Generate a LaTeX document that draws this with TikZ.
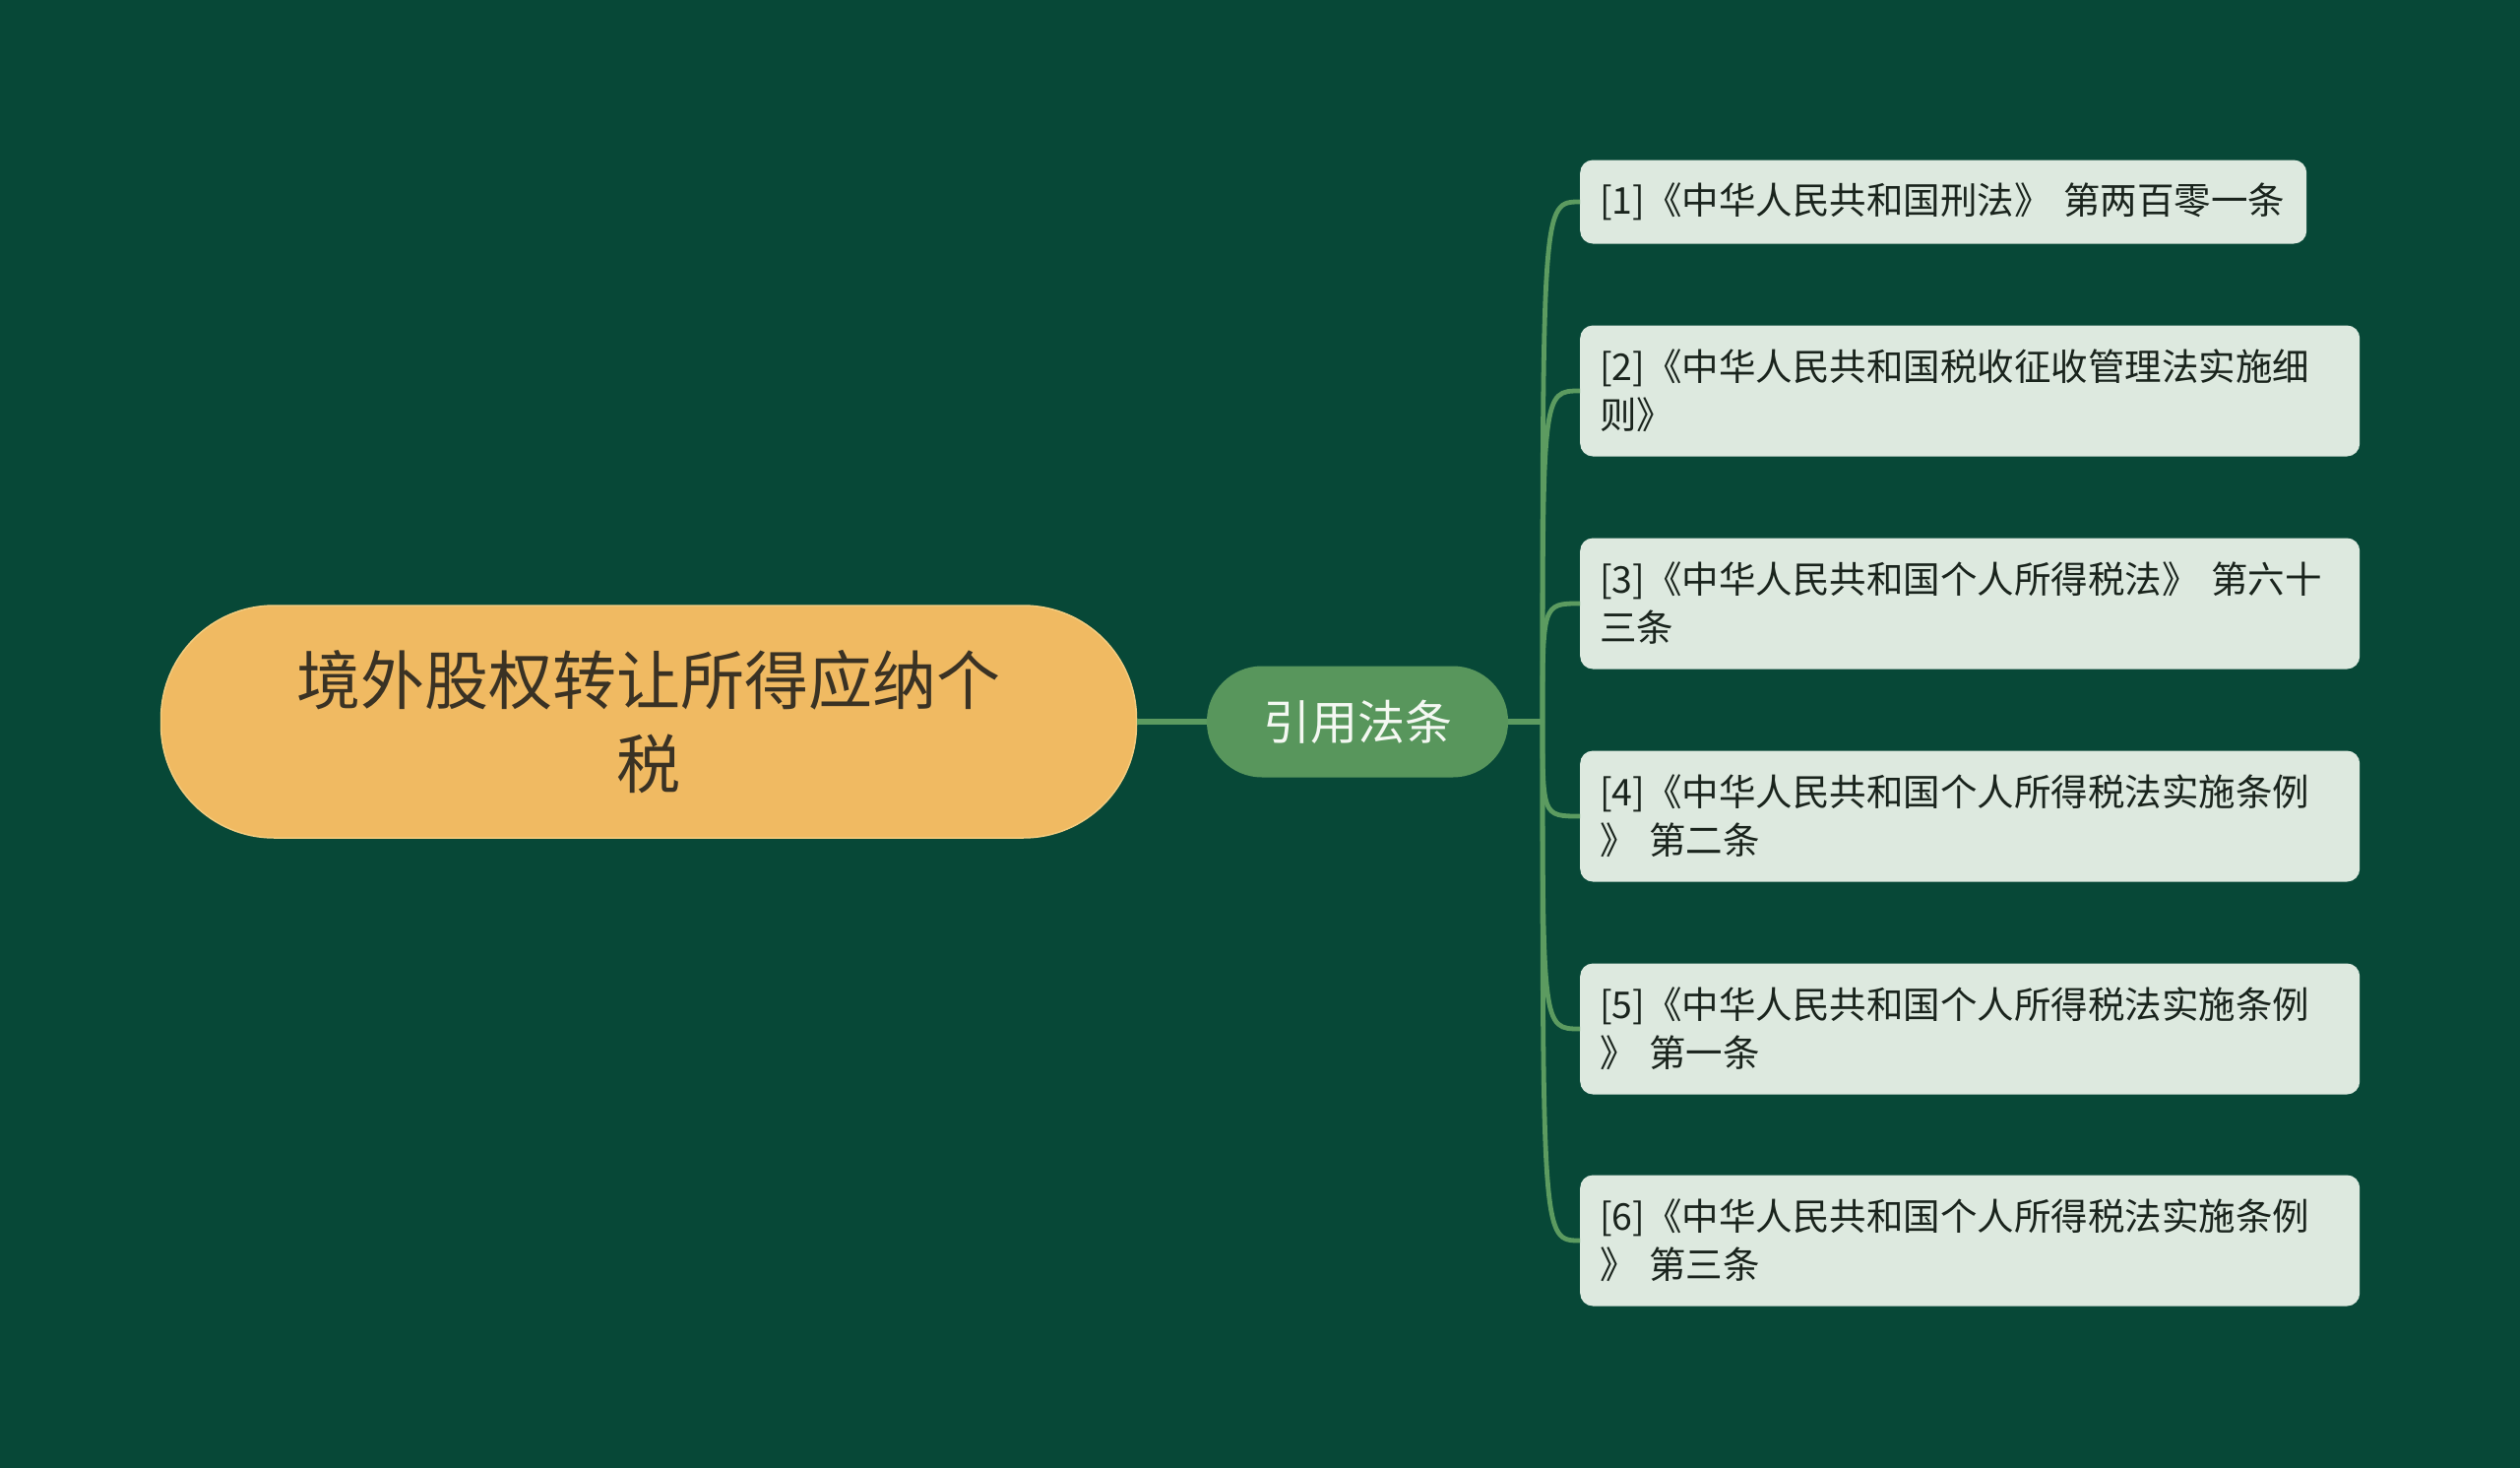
\documentclass[tikz,border=0pt]{standalone}
\usepackage{fontspec}
\setmainfont{Noto Sans CJK SC}
\definecolor{bg}{HTML}{074837}
\definecolor{rootfill}{HTML}{F0BA62}
\definecolor{rootline}{HTML}{F3CB7E}
\definecolor{roottext}{HTML}{3A3224}
\definecolor{midfill}{HTML}{58965C}
\definecolor{midtext}{HTML}{F4F8F2}
\definecolor{leaffill}{HTML}{DDE9DF}
\definecolor{leaftext}{HTML}{1A241D}
\definecolor{link}{HTML}{5C9B60}
\begin{document}
\begin{tikzpicture}[x=1pt,y=-1pt,
  rootbox/.style={draw=rootline, line width=1.5pt, fill=rootfill, rounded corners=115pt,
    minimum width=991pt, minimum height=236pt, text=roottext, align=center,
    font=\fontsize{65}{85}\selectfont, inner sep=0pt},
  midbox/.style={fill=midfill, rounded corners=56pt, minimum width=306pt, minimum height=113pt,
    text=midtext, font=\fontsize{48}{60}\selectfont, inner sep=0pt},
  leafbox/.style={fill=leaffill, rounded corners=13pt, anchor=west, text=leaftext,
    align=left, inner xsep=20pt, inner ysep=0pt, font=\fontsize{37.5}{49}\selectfont},
  leafwide/.style={leafbox, text width=752pt, minimum height=133pt},
  conn/.style={draw=link, line width=4.8pt},
]
\useasboundingbox (0,0) rectangle (2560,1491);
\fill[bg] (0,0) rectangle (2560,1491);

\node[rootbox] (root) at (659,733) {境外股权转让所得应纳个\\税};
\node[midbox] (mid) at (1379,733) {引用法条};
\coordinate (trunk) at (1567,733);

\node[leafbox, text width=698pt, minimum height=85pt] (l1) at (1605,205) {[1]《中华人民共和国刑法》 第两百零一条};
\node[leafwide] (l2) at (1605,397) {[2]《中华人民共和国税收征收管理法实施细\\则》};
\node[leafwide] (l3) at (1605,613) {[3]《中华人民共和国个人所得税法》 第六十\\三条};
\node[leafwide] (l4) at (1605,829) {[4]《中华人民共和国个人所得税法实施条例\\》 第二条};
\node[leafwide] (l5) at (1605,1045) {[5]《中华人民共和国个人所得税法实施条例\\》 第一条};
\node[leafwide] (l6) at (1605,1260) {[6]《中华人民共和国个人所得税法实施条例\\》 第三条};

\draw[conn, line width=5.5pt] (root.east) -- (mid.west);
\draw[conn, line width=5.5pt] (mid.east) -- (trunk);
\foreach \n in {l1,l2,l3,l4,l5,l6}{
  \draw[conn] (trunk) .. controls (trunk |- \n.west) .. (\n.west);
}
\end{tikzpicture}
\end{document}
